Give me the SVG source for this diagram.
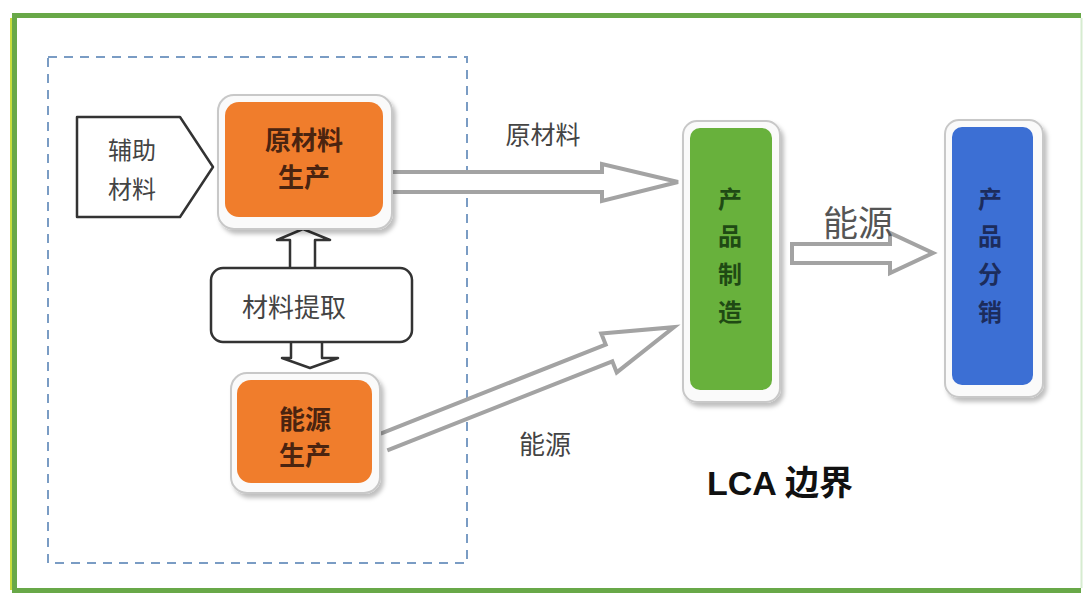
<svg xmlns="http://www.w3.org/2000/svg" width="1083" height="595" viewBox="0 0 1083 595">
<defs>
<style>
.t{font-family:"Noto Sans CJK SC","Liberation Sans",sans-serif;dominant-baseline:central;text-anchor:middle}
.frame{fill:#fafafa;stroke:#c8c8c8;stroke-width:2}
.arr{fill:#fff;stroke:#a3a3a3;stroke-width:4;stroke-linejoin:miter}
.blk{fill:#fff;stroke:#333;stroke-width:2.5;stroke-linejoin:round}
</style>
<filter id="sh" x="-20%" y="-20%" width="140%" height="140%">
<feDropShadow dx="3" dy="4" stdDeviation="2" flood-color="#000" flood-opacity="0.25"/>
</filter>
</defs>
<rect x="0" y="0" width="1083" height="595" fill="#fff"/>
<path d="M1081,15.5 H14.5 V590.5 H1081" fill="none" stroke="#68a848" stroke-width="5"/>
<line x1="11" y1="18" x2="11" y2="590" stroke="#c8dc3c" stroke-width="2"/>
<line x1="1081.5" y1="18" x2="1081.5" y2="588" stroke="#d6ecd0" stroke-width="2"/>
<rect id="boundary" x="48" y="57" width="419" height="506" fill="none" stroke="#7a9cc4" stroke-width="2" stroke-dasharray="9 7"/>

<g id="connectors">
<path class="arr" d="M393,172 H602 V164 L678,182 L602,201 V192 H393"/>
<g transform="translate(384,442) rotate(-21.6)">
<path class="arr" d="M0,-9 H242 V-21 L312,0 L242,21 V9 H0"/>
</g>
<path class="arr" d="M792,244 H890 V233 L933,253 L890,273 V263 H792 Z"/>
<path fill="#fff" stroke="#333" stroke-width="2.5" stroke-linejoin="round" d="M290,268 V240 H277 L303,229 L330,240 H315 V268"/>
<path fill="#fff" stroke="#333" stroke-width="2.5" stroke-linejoin="round" d="M291,342 V358 H282 L310,368 L338,358 H322 V342"/>
</g>

<g id="aux">
<path class="blk" d="M77,117 H180 L213,167 L180,217 H77 Z"/>
<text class="t" x="132" y="148" font-size="24" fill="#444">辅助</text>
<text class="t" x="132" y="187" font-size="24" fill="#444">材料</text>
</g>

<g id="raw">
<rect class="frame" x="218" y="95" width="174" height="134" rx="16" filter="url(#sh)"/>
<rect x="225" y="102" width="158" height="115" rx="14" fill="#f07d2c"/>
<text class="t" x="304" y="138" font-size="26" font-weight="bold" fill="#4a2410">原材料</text>
<text class="t" x="304" y="175" font-size="26" font-weight="bold" fill="#4a2410">生产</text>
</g>

<g id="extract">
<rect class="blk" x="211" y="268" width="201" height="74" rx="12"/>
<text class="t" x="294" y="305" font-size="26" fill="#444">材料提取</text>
</g>

<g id="energy">
<rect class="frame" x="231" y="373" width="149" height="120" rx="16" filter="url(#sh)"/>
<rect x="237" y="380" width="135" height="103" rx="14" fill="#f07d2c"/>
<text class="t" x="305" y="417" font-size="26" font-weight="bold" fill="#4a2410">能源</text>
<text class="t" x="305" y="453" font-size="26" font-weight="bold" fill="#4a2410">生产</text>
</g>

<g id="labels">
<text class="t" x="543" y="133" font-size="25" fill="#444">原材料</text>
<text class="t" x="545" y="442" font-size="26" fill="#444">能源</text>
<text class="t" x="858" y="220" font-size="35" fill="#555">能源</text>
<text x="707" y="483" font-size="34" font-weight="bold" fill="#111" style="font-family:'Liberation Sans','Noto Sans CJK SC',sans-serif;dominant-baseline:central">LCA 边界</text>
</g>

<g id="manufacture">
<rect class="frame" x="683" y="121" width="97" height="281" rx="14" filter="url(#sh)"/>
<rect x="690" y="128" width="82" height="262" rx="10" fill="#68b13c"/>
<text class="t" x="730" y="197" font-size="24" font-weight="bold" fill="#1f4a14">产</text>
<text class="t" x="730" y="234" font-size="24" font-weight="bold" fill="#1f4a14">品</text>
<text class="t" x="730" y="272" font-size="24" font-weight="bold" fill="#1f4a14">制</text>
<text class="t" x="730" y="310" font-size="24" font-weight="bold" fill="#1f4a14">造</text>
</g>

<g id="distribution">
<rect class="frame" x="945" y="120" width="98" height="277" rx="14" filter="url(#sh)"/>
<rect x="952" y="127" width="81" height="258" rx="10" fill="#3c6fd4"/>
<text class="t" x="990" y="197" font-size="24" font-weight="bold" fill="#1c2c5c">产</text>
<text class="t" x="990" y="234" font-size="24" font-weight="bold" fill="#1c2c5c">品</text>
<text class="t" x="990" y="272" font-size="24" font-weight="bold" fill="#1c2c5c">分</text>
<text class="t" x="990" y="310" font-size="24" font-weight="bold" fill="#1c2c5c">销</text>
</g>
</svg>
